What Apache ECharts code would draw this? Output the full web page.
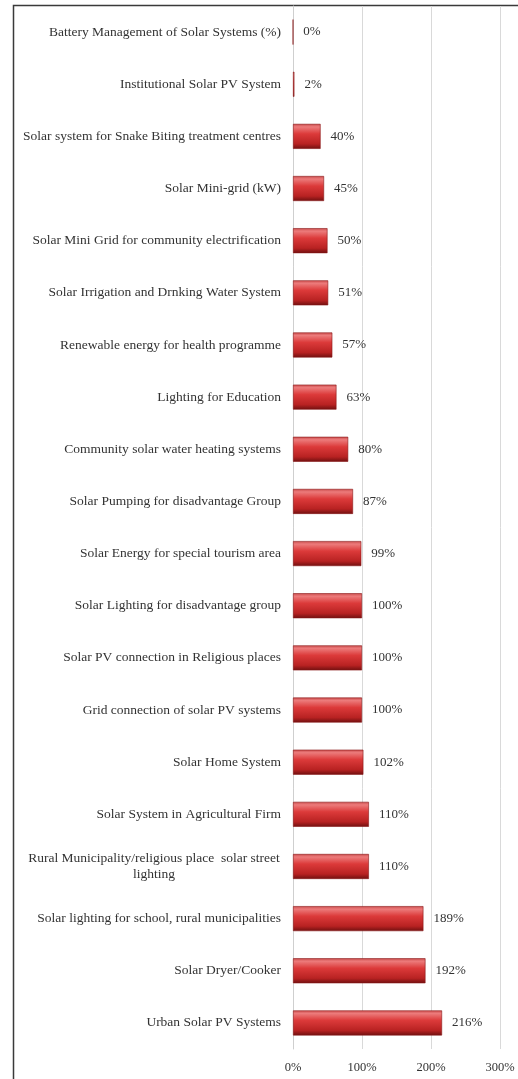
<!DOCTYPE html>
<html>
<head>
<meta charset="utf-8">
<script src="https://cdn.jsdelivr.net/npm/echarts@6/dist/echarts.min.js"></script>
<style>
  html, body { margin: 0; padding: 0; background: #fff; }
  #chart { width: 518px; height: 1079px; }
</style>
</head>
<body>
<div id="chart"></div>
<script>
// Programme targets, listed top to bottom
const categories = [
  'Battery Management of Solar Systems (%)',
  'Institutional Solar PV System',
  'Solar system for Snake Biting treatment centres',
  'Solar Mini-grid (kW)',
  'Solar Mini Grid for community electrification',
  'Solar Irrigation and Drnking Water System',
  'Renewable energy for health programme',
  'Lighting for Education',
  'Community solar water heating systems',
  'Solar Pumping for disadvantage Group',
  'Solar Energy for special tourism area',
  'Solar Lighting for disadvantage group',
  'Solar PV connection in Religious places',
  'Grid connection of solar PV systems',
  'Solar Home System',
  'Solar System in Agricultural Firm',
  'Rural Municipality/religious place  solar street\nlighting',
  'Solar lighting for school, rural municipalities',
  'Solar Dryer/Cooker',
  'Urban Solar PV Systems'
];
// Achievement in percent
const achievement = [0, 2, 40, 45, 50, 51, 57, 63, 80, 87, 99, 100, 100, 100, 102, 110, 110, 189, 192, 216];
const xTicks = [0, 100, 200, 300];

const FONT = '"Liberation Serif", "Times New Roman", serif';
const chart = echarts.init(document.getElementById('chart'), null, { renderer: 'canvas' });

const barFill = new echarts.graphic.LinearGradient(0, 0, 0, 1, [
  { offset: 0, color: '#c94a4a' },
  { offset: 0.12, color: '#ec7b7b' },
  { offset: 0.4, color: '#dc3a3a' },
  { offset: 0.8, color: '#b82222' },
  { offset: 1, color: '#6f1010' }
]);

chart.setOption({
  animation: false,
  backgroundColor: '#fff',
  textStyle: { fontFamily: FONT },
  graphic: [{
    type: 'rect',
    left: 11, top: 3,
    shape: { width: 620, height: 1200 },
    style: { fill: 'none', stroke: '#3a3a3a', lineWidth: 1.5 },
    silent: true
  }],
  grid: { left: 293, right: 18, top: 6, bottom: 30, containLabel: false },
  xAxis: {
    type: 'value',
    min: xTicks[0], max: xTicks[xTicks.length - 1], interval: 100,
    axisLine: { show: false },
    axisTick: { show: false },
    splitLine: { show: true, lineStyle: { color: '#d9d9d9', width: 1 } },
    axisLabel: {
      margin: 12,
      color: '#333',
      fontSize: 12.5,
      fontFamily: FONT,
      formatter: v => v + '%',
      showMinLabel: true, showMaxLabel: true
    }
  },
  yAxis: {
    type: 'category',
    inverse: true,
    data: categories,
    axisLine: { show: true, lineStyle: { color: '#cfcfcf', width: 1 } },
    axisTick: { show: false },
    axisLabel: {
      margin: 12,
      color: '#333',
      fontSize: 13.5,
      fontFamily: FONT,
      lineHeight: 16,
      interval: 0,
      formatter: function (v) {
        if (v.indexOf('\n') >= 0) {
          return v.split('\n').map(s => '{c|' + s + '}').join('\n');
        }
        return v;
      },
      rich: {
        c: { width: 254, align: 'center', fontSize: 13.5, fontFamily: FONT, color: '#333', lineHeight: 16 }
      }
    }
  },
  series: [{
    type: 'bar',
    data: achievement,
    barWidth: 25,
    itemStyle: { color: barFill, borderColor: '#8a1818', borderWidth: 0.6 },
    label: {
      show: true,
      position: 'right',
      distance: 10,
      color: '#333',
      fontSize: 13,
      fontFamily: FONT,
      formatter: p => p.value + '%'
    }
  }]
});
</script>
</body>
</html>
